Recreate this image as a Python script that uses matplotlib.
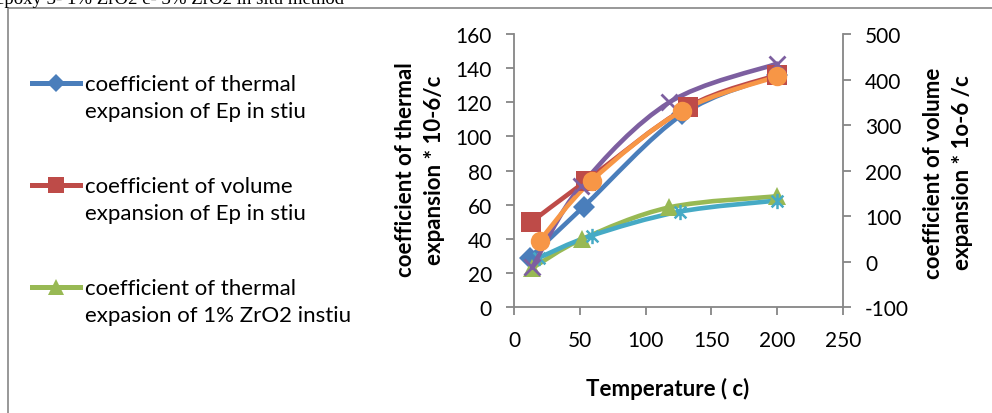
import numpy as np
import matplotlib.pyplot as plt
from matplotlib.path import Path
from matplotlib.patches import PathPatch, Rectangle
from matplotlib.lines import Line2D

plt.rcParams['font.family'] = ['Lato', 'DejaVu Sans']
plt.rcParams['axes.unicode_minus'] = False

# temperature (c) and values
x_ep_th = [12, 53, 128, 200]
ep_th = [29, 59, 113, 136]          # left axis
x_ep_vol = [13, 55, 132, 200]
ep_vol = [87, 178, 340, 410]        # right axis
x_zr1_th = [14, 52, 118, 200]
zr1_th = [23, 40, 58.5, 65]         # left axis
x_zr1_vol = [14, 51, 118, 200]
zr1_vol = [-12, 167, 350, 435]      # right axis
x_zr3_th = [19, 59, 126, 200]
zr3_th = [29, 42, 56, 62.5]         # left axis
x_zr3_vol = [19.5, 59, 128, 200]
zr3_vol = [46, 178, 332, 407]       # right axis

legend_labels = ["coefficient of thermal\nexpansion of Ep in stiu",
                 "coefficient of volume\nexpansion of Ep in stiu",
                 "coefficient of thermal\nexpasion of 1% ZrO2 instiu"]

blue, red, green = "#4A7EBB", "#BE4B48", "#98B954"
purple, cyan, orange = "#7D5FA0", "#46AAC5", "#F79646"
grey = "#868686"

star = Path([(-1, -1), (1, 1), (-1, 1), (1, -1), (0, -1.3), (0, 1.3)],
            [Path.MOVETO, Path.LINETO, Path.MOVETO, Path.LINETO, Path.MOVETO, Path.LINETO])


def smooth_path(xs, ys, t=1 / 6):
    # excel style smoothed line: bezier through every point
    p = np.column_stack([xs, ys]).astype(float)
    verts = [p[0]]
    codes = [Path.MOVETO]
    for i in range(len(p) - 1):
        p0 = p[i - 1] if i > 0 else p[i]
        p3 = p[i + 2] if i + 2 < len(p) else p[i + 1]
        c1 = p[i] + (p[i + 1] - p0) * t
        c2 = p[i + 1] - (p3 - p[i]) * t
        verts += [c1, c2, p[i + 1]]
        codes += [Path.CURVE4] * 3
    return Path(verts, codes)


def series(ax, xs, ys, color, marker, ms, mew=0):
    ax.add_patch(PathPatch(smooth_path(xs, ys), fill=False, edgecolor=color,
                           lw=3.3, capstyle='round', joinstyle='round'))
    ax.plot(xs, ys, ls='none', marker=marker, ms=ms, color=color,
            mec=color, mew=mew)


W, H = 992, 414
fig = plt.figure(figsize=(W / 100, H / 100), dpi=100)
fig.patches.append(Rectangle((8 / W, -0.1), 1.2, 1 - 9 / H + 0.1,
                             transform=fig.transFigure, fill=False,
                             edgecolor=grey, lw=1.2))
fig.text(-0.004, 1 - 4 / H, "epoxy 3- 1% ZrO2 c- 3% ZrO2 in situ method",
         family='Liberation Serif', fontsize=13.5, va='baseline', ha='left')

ax = fig.add_axes([514 / W, 1 - 308.3 / H, 329 / W, 273.3 / H])
ax2 = ax.twinx()
ax.set_zorder(ax2.get_zorder() - 1)
ax.patch.set_visible(True)
ax2.patch.set_visible(False)

series(ax, x_ep_th, ep_th, blue, 'D', 11)
series(ax, x_zr1_th, zr1_th, green, '^', 13)
series(ax, x_zr3_th, zr3_th, cyan, star, 11, 1.8)
series(ax2, x_ep_vol, ep_vol, red, 's', 14)
series(ax2, x_zr1_vol, zr1_vol, purple, 'x', 12, 2.0)
series(ax2, x_zr3_vol, zr3_vol, orange, 'o', 14)

ax.set_xlim(0, 250)
ax.set_ylim(0, 160)
ax2.set_ylim(-100, 500)
ax.set_xticks(range(0, 251, 50))
ax.set_yticks(range(0, 161, 20))
ax2.set_yticks(range(-100, 501, 100))

for a in (ax, ax2):
    for s in a.spines.values():
        s.set_color(grey)
        s.set_linewidth(1.3)
    a.spines['top'].set_visible(False)
    a.tick_params(colors=grey, labelcolor='black', labelsize=15,
                  length=6, width=1.3, pad=10)
ax.spines['right'].set_visible(False)
ax2.spines['left'].set_visible(False)
ax2.spines['bottom'].set_visible(False)

fig.text(420 / W, 1 - 170 / H, "coefficient of thermal\nexpansion * 10-6/c",
         rotation=90, ha='center', va='center', fontsize=16,
         fontweight='bold', linespacing=1.45)
fig.text(948 / W, 1 - 173 / H, "coefficient of volume\nexpansion * 1o-6 /c",
         rotation=90, ha='center', va='center', fontsize=16,
         fontweight='bold', linespacing=1.45)
fig.text(668 / W, 1 - 389 / H, "Temperature ( c)", ha='center',
         va='center', fontsize=16, fontweight='bold')

# legend (only the first three entries fit in the chart area)
legend_style = [(blue, 'D', 9), (red, 's', 12), (green, '^', 11)]
for i, (label, (c, m, ms)) in enumerate(zip(legend_labels, legend_style)):
    y = 84 + 102 * i
    fig.add_artist(Line2D([32 / W, 80 / W], [1 - y / H] * 2, color=c, lw=3.6,
                          transform=fig.transFigure))
    fig.add_artist(Line2D([56 / W], [1 - y / H], color=c, marker=m, ms=ms,
                          mew=0, transform=fig.transFigure))
    fig.text(85 / W, 1 - (y + 14.5) / H, label, fontsize=16, va='center',
             ha='left', linespacing=1.4)

fig.savefig("out.png", dpi=100)
